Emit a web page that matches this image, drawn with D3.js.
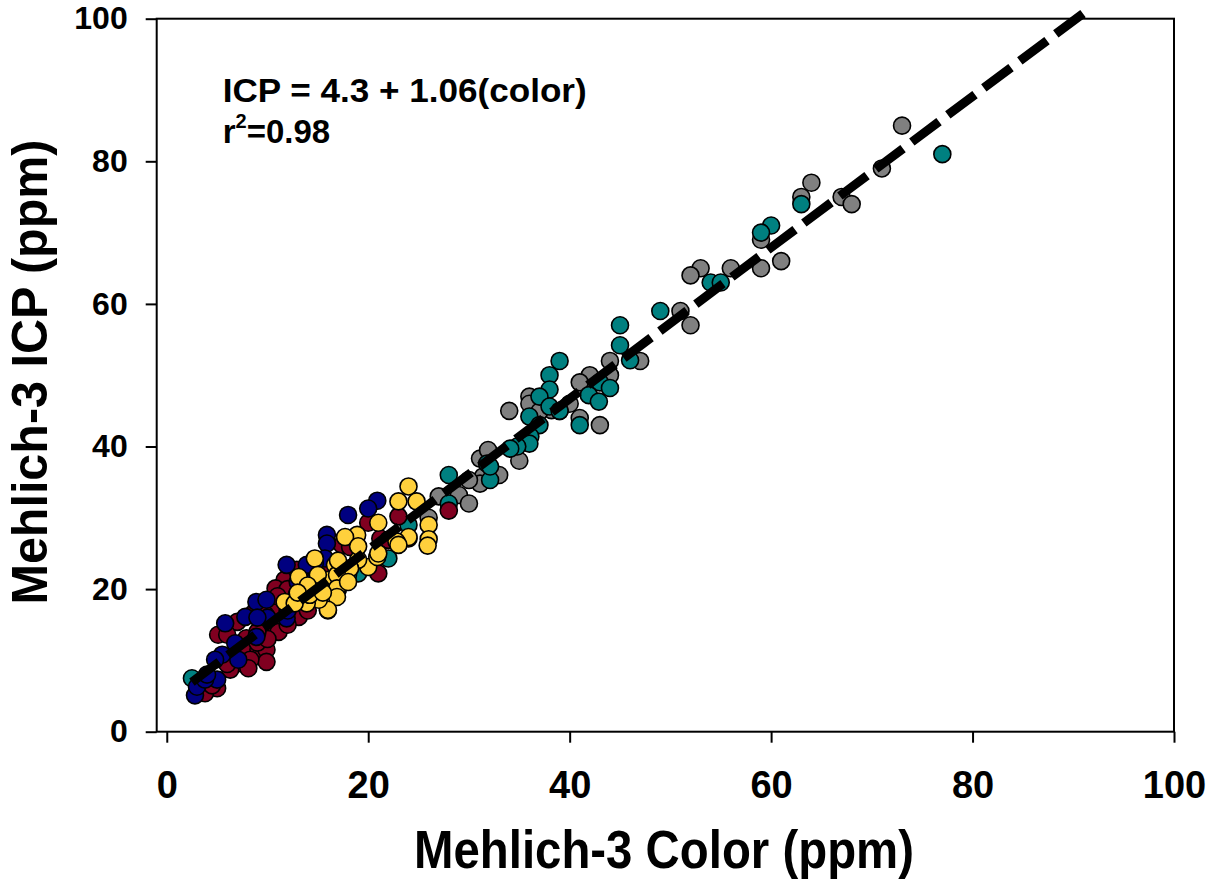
<!DOCTYPE html>
<html><head><meta charset="utf-8">
<script src="https://cdn.jsdelivr.net/npm/d3@7"></script>
<style>body{margin:0;background:#fff}svg{display:block}text{font-family:"Liberation Sans",Arial,sans-serif;font-weight:bold;fill:#000}</style>
</head><body><div id="chart"></div>
<script>
// ---- data ----
const xTicks = [0, 20, 40, 60, 80, 100];
const yTicks = [0, 20, 40, 60, 80, 100];
const xTitle = "Mehlich-3 Color (ppm)";
const yTitle = "Mehlich-3 ICP (ppm)";
const eqText = "ICP = 4.3 + 1.06(color)";
const fitIntercept = 4.3, fitSlope = 1.06;
const fitRange = [2.5, 91];

const grayPts = [[71,79],[73,85],[64,77],[63,75],[67,75],[68,74],[59,69],[61,66],[59,65],[56,65],[53,65],[52,64],[51,59],[52,57],[44,52],[47,52],[42,50],[41,49],[44,50],[36,47],[34,45],[36,46],[38.2,45.1],[41,44],[43,43],[37,44.9],[35,38],[32,39],[33,36],[27,33],[29,33.2],[30,32],[26,30],[31.4,35.8],[31.1,34.8],[30,35.3],[31.1,38.3],[31.9,39.5],[40,46],[39,45],[13,19],[17,20]];
const tealPts = [[77,81],[63,74],[60,71],[59,70],[54,63],[55,63],[49,59],[45,57],[45,54.2],[46,52.1],[39,52],[38,50],[38,48],[43,49],[44,48.2],[41.9,47.2],[42.9,46.3],[37,47],[36,44.2],[38,45.6],[41,43],[37,43],[36.1,41.4],[36,40.4],[34.8,40],[34.1,39.7],[31.8,37.6],[28,36],[28,32],[32.1,35.3],[32.1,37.2],[24,29],[22,24.3],[19,22.2],[2.5,7.5],[18,22],[39,45]];
const maroonPts = [[28,31],[23,30.2],[24,27.1],[20,29.3],[21.2,27.1],[22,26.9],[17.4,26.2],[18.2,25.9],[21,22.2],[15.7,22.9],[13.9,22],[11.7,21.3],[10.8,20.1],[12.9,22.7],[13.1,16.1],[10.8,17.5],[8.6,16.6],[9.8,16.4],[10.1,14.7],[11.1,14],[7.9,13.1],[7,15.4],[5.1,13.6],[6,13.6],[7.8,11.9],[9.1,11.5],[9.9,11.5],[9.9,9.8],[8.3,10.1],[7.1,9.6],[8.1,8.9],[6.3,8.7],[5,6.1],[3.8,5.4],[12,20],[14,21],[11,19],[16,17],[9,12.5],[10,13],[6,9.5],[9,14],[12,15],[13,18.5],[14,17],[4.5,6.5]];
const navyPts = [[20.9,32.4],[20,31.3],[18,30.4],[15.9,27.6],[15.9,26.4],[15.7,24.3],[14.7,23.6],[13.9,23.4],[11.9,23.4],[12.9,19.2],[11.9,15.9],[8.9,18.2],[9.9,18.5],[8.9,13.3],[7.8,16.1],[5.8,15.2],[6.8,12.4],[7.1,10.1],[5.5,10.8],[4.8,10.1],[5,7.3],[2.8,5.1],[3,6.3],[3.8,7.3],[12,17],[10,16],[14.5,21],[4,8],[9,16],[13,21]];
const yellowPts = [[24,34.4],[23,32.3],[24.8,32.3],[26,29],[26,27],[24,27.3],[21,29.3],[18.9,27.6],[25.9,26.1],[22.8,26.7],[17.7,27.3],[23,26.2],[20,23.1],[20.9,24.5],[19,24.1],[18.2,22.9],[14.7,24.3],[16.7,23.4],[13.1,21.7],[15.1,20.1],[16,21.3],[16.9,22],[16.9,20.1],[16.9,18.9],[16,17.1],[15.1,18.5],[13.9,18],[14.2,19.2],[11.7,18.2],[12.7,18],[15,22],[17,24],[14,20.5],[15.5,19.5],[13,19.5],[18,21],[19,26],[21,25]];
const seriesList = [
  {name:"gray", pts:grayPts, color:"#808080"},
  {name:"teal", pts:tealPts, color:"#008080"},
  {name:"maroon", pts:maroonPts, color:"#800020"},
  {name:"navy", pts:navyPts, color:"#000080"},
  {name:"yellow", pts:yellowPts, color:"#FFD03C"}
];

// ---- layout ----
const W = 1209, H = 880;
const pL = 156.7, pR = 1174, pT = 18.7, pB = 731.7;
const x = d3.scaleLinear().domain([-1, 100]).range([pL, pR]);
const y = d3.scaleLinear().domain([0, 100]).range([pB, pT]);

const svg = d3.select("#chart").append("svg").attr("width", W).attr("height", H);

// frame
svg.append("rect").attr("x", pL).attr("y", pT).attr("width", pR-pL).attr("height", pB-pT)
  .attr("fill", "none").attr("stroke", "#000").attr("stroke-width", 2);

// axes
const xAxis = svg.append("g").attr("transform", `translate(0,${pB})`)
  .call(d3.axisBottom(x).tickValues(xTicks).tickSize(11).tickPadding(28).tickSizeOuter(0));
xAxis.select(".domain").remove();
xAxis.selectAll("line").attr("stroke-width", 2);
xAxis.selectAll("text").attr("font-size", 38).attr("font-family", "Liberation Sans, Arial, sans-serif").attr("font-weight", "bold");

const yAxis = svg.append("g").attr("transform", `translate(${pL},0)`)
  .call(d3.axisLeft(y).tickValues(yTicks).tickSize(11).tickPadding(18).tickSizeOuter(0));
yAxis.select(".domain").remove();
yAxis.selectAll("line").attr("stroke-width", 2);
yAxis.selectAll("text").attr("font-size", 32).attr("font-family", "Liberation Sans, Arial, sans-serif").attr("font-weight", "bold");

// points
seriesList.forEach(s => {
  svg.append("g").selectAll("circle").data(s.pts).join("circle")
    .attr("cx", d => x(d[0])).attr("cy", d => y(d[1])).attr("r", 8.5)
    .attr("fill", s.color).attr("stroke", "#000").attr("stroke-width", 1.6);
});

// regression line
const fit = fitRange.map(v => [v, fitIntercept + fitSlope * v]);
svg.append("path").attr("d", d3.line().x(d => x(d[0])).y(d => y(d[1]))(fit))
  .attr("stroke", "#000").attr("stroke-width", 9).attr("fill", "none")
  .attr("stroke-dasharray", "34,11");

// annotation
svg.append("text").attr("x", 222.7).attr("y", 101.7).attr("font-size", 33)
  .attr("textLength", 364).attr("lengthAdjust", "spacingAndGlyphs").text(eqText);
const r2 = svg.append("text").attr("x", 222.7).attr("y", 143.3).attr("font-size", 33);
r2.append("tspan").text("r");
r2.append("tspan").attr("font-size", 20).attr("dy", -15).text("2");
r2.append("tspan").attr("dy", 15).text("=0.98");

// titles
svg.append("text").attr("x", 664).attr("y", 868).attr("text-anchor", "middle")
  .attr("font-size", 54).attr("textLength", 500).attr("lengthAdjust", "spacingAndGlyphs").text(xTitle);
svg.append("text").attr("transform", "translate(47,372) rotate(-90)").attr("text-anchor", "middle")
  .attr("font-size", 50).attr("textLength", 465).attr("lengthAdjust", "spacingAndGlyphs").text(yTitle);
</script></body></html>
